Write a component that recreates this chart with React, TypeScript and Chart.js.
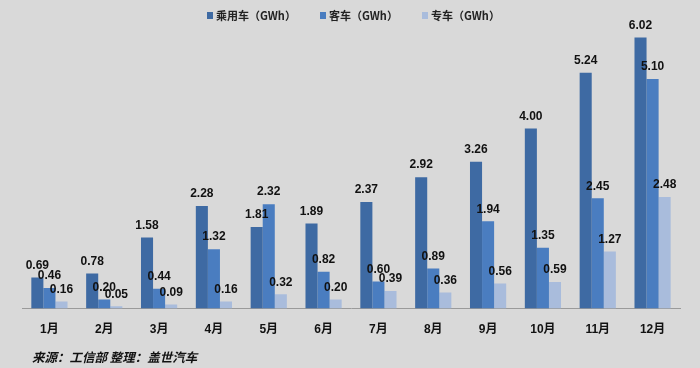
import React, { useEffect, useRef } from "react";
import { Chart, registerables } from "chart.js";

Chart.register(...registerables);

const months = ["1月", "2月", "3月", "4月", "5月", "6月", "7月", "8月", "9月", "10月", "11月", "12月"];
const passenger = [0.69, 0.78, 1.58, 2.28, 1.81, 1.89, 2.37, 2.92, 3.26, 4.0, 5.24, 6.02];
const bus = [0.46, 0.2, 0.44, 1.32, 2.32, 0.82, 0.6, 0.89, 1.94, 1.35, 2.45, 5.1];
const special = [0.16, 0.05, 0.09, 0.16, 0.32, 0.2, 0.39, 0.36, 0.56, 0.59, 1.27, 2.48];
const seriesNames = ["乘用车（GWh）", "客车（GWh）", "专车（GWh）"];
const sourceText = "来源：工信部 整理：盖世汽车";

const colors = ["#3E6AA3", "#4A7DC0", "#A9BCDC"];
const FONT = '"Liberation Sans", "Noto Sans CJK SC", sans-serif';

const labelPlugin = {
  id: "valueLabels",
  afterDatasetsDraw(chart: any) {
    const ctx = chart.ctx;
    ctx.save();
    ctx.font = `bold 12px ${FONT}`;
    ctx.fillStyle = "#111";
    ctx.textAlign = "center";
    ctx.textBaseline = "bottom";
    chart.data.datasets.forEach((ds: any, di: number) => {
      const meta = chart.getDatasetMeta(di);
      meta.data.forEach((el: any, i: number) => {
        ctx.fillText(Number(ds.data[i]).toFixed(2), el.x, el.y - 6);
      });
    });
    ctx.restore();
  },
};

const legendPlugin = {
  id: "customLegend",
  afterDraw(chart: any) {
    const ctx = chart.ctx;
    ctx.save();
    ctx.font = `bold 11px "Noto Sans CJK SC", ${FONT}`;
    ctx.textBaseline = "middle";
    ctx.textAlign = "left";
    const xs = [207, 320, 422];
    chart.data.datasets.forEach((ds: any, i: number) => {
      ctx.fillStyle = colors[i];
      ctx.fillRect(xs[i], 12, 6, 7);
      ctx.fillStyle = "#222";
      ctx.fillText(ds.label, xs[i] + 9, 16);
    });
    ctx.font = `italic bold 12.5px "Noto Sans CJK SC", ${FONT}`;
    ctx.fillStyle = "#111";
    ctx.fillText(sourceText, 32, 357);
    ctx.restore();
  },
};

export default function App() {
  const ref = useRef<HTMLCanvasElement | null>(null);
  useEffect(() => {
    if (!ref.current) return;
    const chart = new Chart(ref.current, {
      type: "bar",
      data: {
        labels: months,
        datasets: [
          { label: seriesNames[0], data: passenger, backgroundColor: colors[0] },
          { label: seriesNames[1], data: bus, backgroundColor: colors[1] },
          { label: seriesNames[2], data: special, backgroundColor: colors[2] },
        ],
      },
      options: {
        responsive: false,
        animation: false,
        layout: { padding: { left: 22, right: 20, top: 16, bottom: 17 } },
        datasets: { bar: { categoryPercentage: 0.66, barPercentage: 1 } },
        plugins: { legend: { display: false }, tooltip: { enabled: false } },
        scales: {
          x: {
            grid: { display: false, drawTicks: false },
            border: { display: true, color: "#9a9a9a", width: 1 },
            ticks: { padding: 14, color: "#111", font: { family: FONT, size: 12, weight: "bold" } },
          },
          y: { display: false, min: 0, max: 6.5 },
        },
      },
      plugins: [labelPlugin, legendPlugin],
    });
    return () => chart.destroy();
  }, []);
  return (
    <div style={{ position: "absolute", left: 0, top: 0, width: 700, height: 368, background: "#D9D9D9" }}>
      <canvas ref={ref} width={700} height={368} style={{ display: "block" }} />
    </div>
  );
}
